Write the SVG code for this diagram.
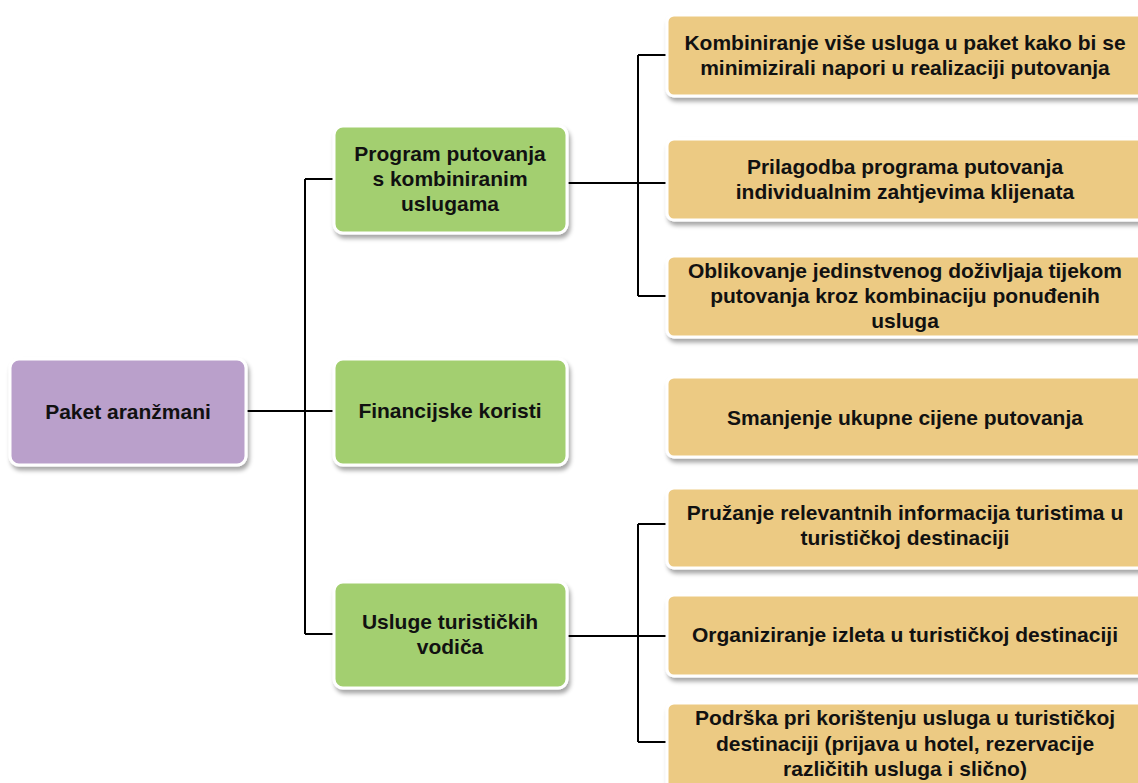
<svg xmlns="http://www.w3.org/2000/svg" width="1138" height="783" viewBox="0 0 1138 783">
<defs>
<filter id="sh" x="-10%" y="-10%" width="130%" height="140%">
<feDropShadow dx="2" dy="4" stdDeviation="2" flood-color="#000" flood-opacity="0.35"/>
</filter>
</defs>
<style>
.n{stroke:#fff;stroke-width:3;filter:url(#sh)}
.p{fill:#BAA0CB}
.g{fill:#A3CF6F}
.o{fill:#ECCA83}
text{font-family:"Liberation Sans",Arial,sans-serif;font-weight:bold;font-size:21px;fill:#111;text-anchor:middle}
.c{fill:none;stroke:#000;stroke-width:2}
</style>
<rect width="1138" height="783" fill="#fff"/>
<g id="connectors">
<path class="c" d="M246 411H305M305 179V634M305 179H334M305 411H334M305 634H334"/>
<path class="c" d="M567 183H667M638 55V296M638 55H667M638 296H667"/>
<path class="c" d="M567 636H667M638 524V742M638 524H667M638 742H667"/>
</g>
<g id="root"><rect class="n p" x="10" y="359" width="236" height="106" rx="9"/><text x="128" y="419">Paket aranžmani</text></g>
<g id="program"><rect class="n g" x="334" y="126" width="233" height="107" rx="9"/><text x="450" y="161">Program putovanja</text><text x="450" y="186">s kombiniranim</text><text x="450" y="211">uslugama</text></g>
<g id="financ"><rect class="n g" x="334" y="359" width="233" height="106" rx="9"/><text x="450" y="418">Financijske koristi</text></g>
<g id="vodici"><rect class="n g" x="334" y="582" width="233" height="106" rx="9"/><text x="450" y="629">Usluge turističkih</text><text x="450" y="654">vodiča</text></g>
<g id="o1"><rect class="n o" x="667" y="15" width="480" height="81" rx="7"/><text x="905" y="50">Kombiniranje više usluga u paket kako bi se</text><text x="905" y="75">minimizirali napori u realizaciji putovanja</text></g>
<g id="o2"><rect class="n o" x="667" y="139" width="480" height="81" rx="7"/><text x="905" y="174">Prilagodba programa putovanja</text><text x="905" y="199">individualnim zahtjevima klijenata</text></g>
<g id="o3"><rect class="n o" x="667" y="256" width="480" height="81" rx="7"/><text x="905" y="278">Oblikovanje jedinstvenog doživljaja tijekom</text><text x="905" y="303">putovanja kroz kombinaciju ponuđenih</text><text x="905" y="328">usluga</text></g>
<g id="o4"><rect class="n o" x="667" y="377" width="480" height="80" rx="7"/><text x="905" y="425">Smanjenje ukupne cijene putovanja</text></g>
<g id="o5"><rect class="n o" x="667" y="488" width="480" height="80" rx="7"/><text x="905" y="520">Pružanje relevantnih informacija turistima u</text><text x="905" y="545">turističkoj destinaciji</text></g>
<g id="o6"><rect class="n o" x="667" y="595" width="480" height="81" rx="7"/><text x="905" y="642">Organiziranje izleta u turističkoj destinaciji</text></g>
<g id="o7"><rect class="n o" x="667" y="703" width="480" height="90" rx="7"/><text x="905" y="725">Podrška pri korištenju usluga u turističkoj</text><text x="905" y="751">destinaciji (prijava u hotel, rezervacije</text><text x="905" y="776">različitih usluga i slično)</text></g>
</svg>
